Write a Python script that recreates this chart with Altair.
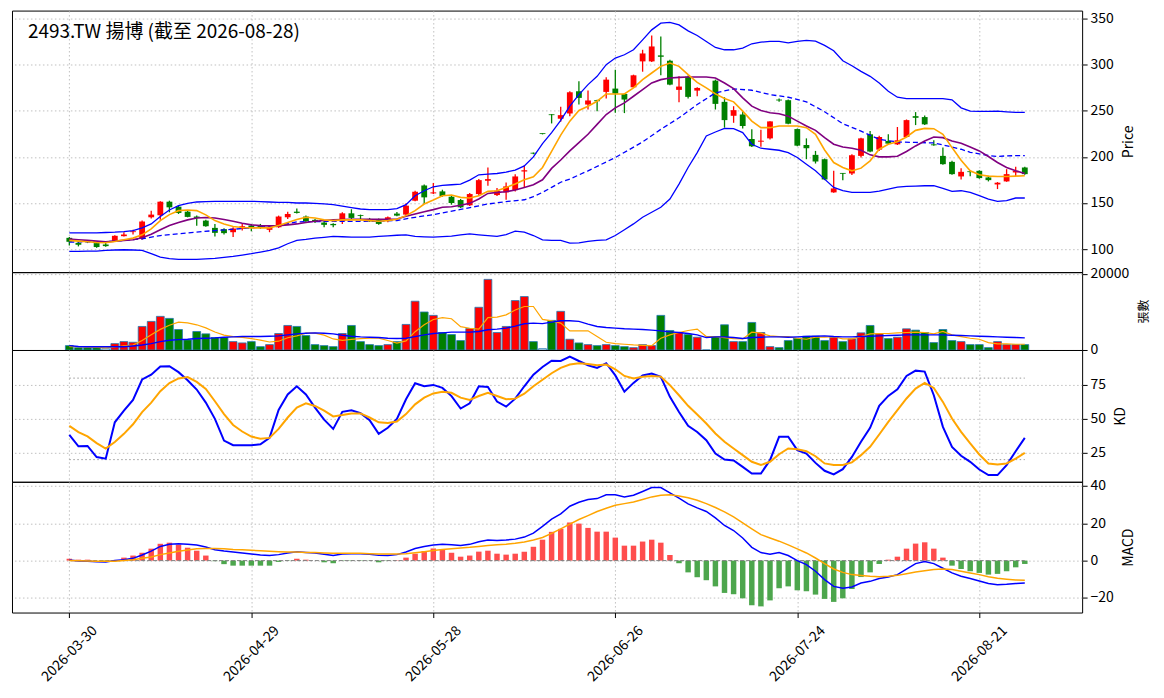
import altair as alt
import pandas as pd

TITLE = "2493.TW 揚博 (截至 2026-08-28)"
TICK_IDX = [0, 20, 40, 60, 80, 100]
TICK_DATES = ["2026-03-30", "2026-04-29", "2026-05-28", "2026-06-26", "2026-07-24", "2026-08-21"]

open_ = [112.2, 106.8, 108.3, 106.5, 105.0, 108.3, 114.0, 118.4, 111.2, 134.5,
         136.7, 151.4, 146.0, 140.6, 135.3, 130.9, 123.0, 121.6, 118.3, 121.9,
         125.5, 125.2, 120.9, 123.7, 134.5, 140.6, 135.3, 131.7, 128.8, 127.3,
         130.2, 138.8, 136.7, 132.7, 131.7, 130.9, 138.5, 137.4, 152.5, 169.0,
         160.4, 162.6, 156.8, 153.2, 147.5, 159.7, 174.1, 158.6, 161.5, 164.0,
         184.2, 203.9, 224.8, 246.0, 241.4, 247.1, 271.2, 256.8, 261.5, 270.5,
         274.1, 268.3, 275.5, 303.6, 303.6, 310.1, 304.3, 272.7, 287.1, 271.9,
         None, 282.7, 259.7, 244.6, 246.0, 219.4, 216.5, 220.1, 262.2, 261.5,
         230.2, 212.9, 202.2, 197.5, 161.5, 182.4, 182.0, 201.1, 224.5, 207.9,
         217.3, 213.6, 221.6, 244.2, 243.2, 213.6, 201.1, 194.6, 178.8, 184.2,
         184.9, 177.7, 170.1, 173.4, 183.1, 188.5]
high_ = [113.0, 107.6, 109.0, 107.6, 106.8, 115.0, 118.3, 120.9, 130.9, 141.7,
         151.8, 152.5, 147.1, 141.7, 136.3, 131.7, 127.3, 122.7, 123.7, 127.3,
         127.3, 127.3, 125.5, 136.3, 140.6, 143.9, 136.3, 132.7, 130.2, 128.1,
         139.9, 143.2, 137.4, 133.8, 133.1, 135.3, 140.2, 149.6, 163.3, 170.1,
         171.6, 164.4, 157.9, 154.3, 160.8, 175.9, 188.5, 166.2, 172.3, 181.3,
         190.3, 204.7, 225.5, 246.4, 254.3, 271.2, 282.0, 272.0, 262.0, 286.3,
         294.6, 269.0, 289.2, 316.2, 331.6, 330.6, 305.4, 287.4, 288.2, 275.5,
         None, 283.8, 264.7, 255.0, 249.6, 229.9, 229.5, 238.8, 263.3, 262.2,
         230.9, 220.1, 206.5, 198.2, 184.9, 182.6, 202.9, 220.8, 228.1, 223.0,
         224.5, 232.4, 240.6, 248.6, 245.0, 218.0, 210.1, 195.7, 187.8, 185.6,
         185.6, 179.5, 172.7, 186.7, 189.2, 189.2]
low_ = [104.0, 102.9, 106.5, 101.4, 102.6, 107.6, 113.7, 115.8, 110.1, 133.1,
        131.7, 139.9, 138.1, 134.5, 125.2, 124.1, 113.7, 115.8, 113.0, 120.1,
        119.4, 121.9, 118.3, 123.0, 132.7, 138.5, 128.4, 128.4, 123.7, 123.7,
        127.3, 131.7, 130.9, 129.5, 126.3, 129.1, 135.6, 136.3, 151.8, 148.9,
        159.7, 156.8, 148.2, 144.6, 146.8, 157.9, 168.7, 157.5, 153.6, 162.6,
        167.3, 202.9, 224.4, 236.3, 238.1, 244.2, 256.8, 251.4, 249.6, 263.3,
        247.8, 247.5, 274.8, 292.4, 302.9, 288.5, 277.7, 259.3, 263.3, 265.8,
        None, 251.4, 231.7, 237.0, 230.9, 210.8, 211.0, 219.0, 259.7, 235.3,
        211.5, 197.5, 192.8, 174.8, 161.2, 174.8, 180.3, 199.3, 205.1, 206.5,
        213.6, 212.9, 220.9, 234.5, 234.5, 212.2, 191.4, 180.6, 175.5, 179.1,
        176.3, 173.4, 165.1, 173.0, 179.1, 180.6]
close_ = [107.9, 104.7, 107.6, 102.2, 103.2, 114.4, 115.8, 119.0, 129.9, 137.4,
          151.4, 145.3, 139.2, 134.9, 133.8, 124.8, 117.6, 117.3, 122.3, 124.8,
          123.7, 123.0, 124.1, 135.3, 138.1, 139.2, 130.2, 130.2, 126.3, 125.9,
          138.8, 133.8, 136.0, 130.2, 127.3, 134.5, 136.3, 147.1, 162.2, 156.1,
          161.5, 157.6, 150.0, 145.3, 159.7, 174.8, 175.9, 163.3, 168.0, 178.8,
          185.6, 203.6, 224.8, 245.3, 245.3, 270.1, 264.0, 261.2, 260.4, 283.8,
          268.7, 262.2, 288.5, 312.2, 319.8, 308.6, 278.4, 276.3, 265.1, 274.8,
          None, 257.5, 239.9, 250.7, 233.5, 211.5, 217.6, 238.5, 261.2, 236.0,
          212.2, 209.4, 195.0, 175.5, 165.8, 181.7, 201.8, 220.1, 205.8, 221.6,
          214.4, 218.0, 239.9, 242.4, 235.3, 212.6, 192.1, 181.3, 183.8, 183.5,
          177.0, 174.8, 172.0, 181.3, 184.9, 181.3]

ma5 = [109.4, 108.6, 107.9, 107.2, 106.8, 108.3, 110.1, 111.9, 115.5, 121.9,
       130.9, 137.4, 141.7, 142.4, 141.7, 137.1, 130.9, 127.3, 124.5, 123.4,
       123.0, 123.0, 123.0, 125.5, 128.8, 132.0, 134.5, 133.8, 131.7, 130.9,
       131.7, 131.7, 131.7, 130.9, 130.2, 130.9, 132.4, 136.3, 141.7, 148.9,
       153.2, 157.9, 158.6, 156.1, 155.4, 157.9, 162.6, 163.3, 166.9, 170.5,
       175.2, 178.4, 188.5, 206.0, 223.6, 238.8, 250.4, 255.0, 260.4, 268.3,
       268.3, 268.3, 274.8, 283.8, 291.0, 298.2, 301.8, 298.2, 289.2, 280.9,
       274.8, 268.3, 263.3, 259.7, 249.6, 238.8, 231.7, 231.7, 233.5, 233.5,
       233.5, 231.7, 224.5, 207.5, 193.9, 188.5, 184.9, 187.8, 195.7, 208.3,
       213.7, 216.5, 221.6, 228.8, 230.9, 230.6, 224.5, 210.1, 196.4, 184.9,
       180.6, 179.1, 178.8, 178.8, 179.1, 179.5]
ma20 = [110.8, 110.1, 109.4, 108.6, 107.9, 108.6, 109.4, 110.1, 112.2, 116.2,
        120.9, 125.5, 128.8, 131.7, 133.8, 134.2, 133.8, 132.0, 130.2, 128.1,
        126.3, 125.5, 125.2, 125.5, 126.3, 127.3, 128.8, 130.2, 131.0, 131.7,
        132.0, 132.4, 132.4, 132.4, 132.4, 132.4, 132.7, 135.6, 138.1, 140.6,
        142.8, 145.3, 146.0, 147.5, 149.6, 154.3, 160.4, 161.5, 162.2, 164.0,
        166.9, 169.8, 175.2, 187.5, 196.6, 206.5, 215.5, 224.5, 235.3, 246.0,
        253.2, 258.6, 265.8, 273.0, 280.2, 283.8, 285.6, 286.3, 286.7, 286.7,
        286.7, 285.6, 280.2, 274.1, 264.0, 255.0, 250.4, 247.8, 246.8, 244.2,
        238.8, 233.5, 228.8, 220.9, 213.7, 210.8, 209.4, 207.2, 202.2, 200.0,
        200.0, 200.7, 205.8, 211.9, 217.3, 221.6, 220.9, 217.3, 214.7, 210.8,
        206.5, 200.4, 193.9, 188.5, 184.9, 182.0]
bb_up = [117.6, 117.6, 117.6, 117.6, 118.0, 118.3, 119.0, 120.1, 123.0, 127.3,
         135.3, 142.4, 147.1, 149.6, 151.1, 151.5, 151.8, 151.8, 151.8, 151.8,
         151.8, 151.5, 151.1, 150.7, 150.7, 150.0, 150.0, 149.6, 149.0, 148.2,
         146.5, 145.0, 143.5, 142.8, 142.8, 142.8, 143.9, 148.2, 157.9, 163.3,
         167.6, 169.0, 169.8, 170.5, 174.8, 180.6, 181.3, 182.0, 183.5, 185.6,
         190.3, 200.0, 214.4, 226.3, 239.7, 255.0, 267.6, 278.4, 287.4, 300.0,
         307.2, 310.8, 316.2, 327.0, 337.8, 345.0, 346.0, 343.2, 336.7, 331.7,
         325.2, 318.7, 316.2, 316.2, 318.0, 322.7, 324.5, 325.2, 325.2, 323.7,
         325.2, 326.3, 325.5, 321.0, 315.1, 304.3, 298.9, 292.8, 287.4, 280.2,
         271.2, 264.7, 263.3, 263.3, 263.3, 263.3, 263.3, 261.9, 253.2, 249.6,
         249.3, 249.3, 249.6, 248.9, 248.2, 248.2]
bb_low = [97.5, 97.6, 97.7, 97.8, 98.5, 99.0, 99.3, 99.0, 98.6, 95.0,
          91.4, 89.6, 88.8, 88.8, 88.8, 89.3, 89.9, 91.0, 92.1, 93.5,
          95.0, 96.8, 98.6, 101.4, 105.8, 109.4, 110.5, 111.9, 112.8, 113.7,
          113.4, 113.0, 113.0, 113.0, 113.7, 114.4, 115.0, 115.5, 113.7, 113.3,
          113.0, 113.5, 114.0, 115.5, 116.5, 115.5, 114.7, 113.7, 115.8, 119.4,
          118.3, 114.7, 110.1, 109.4, 109.4, 106.5, 106.8, 108.3, 109.4, 110.1,
          114.7, 120.9, 127.3, 134.5, 139.9, 145.3, 154.3, 170.5, 188.5, 204.7,
          222.7, 227.0, 230.9, 230.6, 226.3, 213.7, 209.4, 208.3, 207.2, 204.7,
          199.3, 192.1, 184.9, 175.9, 166.9, 163.3, 161.5, 161.5, 161.5, 162.9,
          165.1, 167.3, 168.0, 168.3, 168.7, 168.7, 165.8, 162.6, 163.3, 161.5,
          157.9, 154.3, 151.8, 152.5, 155.4, 155.4]
ma60_idx = [0, 5, 8, 10, 13, 16, 20, 23, 25, 28,
            31, 34, 36, 38, 40, 43, 46, 48, 50, 51,
            52, 53, 54, 55, 57, 60, 63, 65, 67, 69,
            71, 73, 75, 77, 79, 81, 83, 85, 87, 89,
            91, 93, 95, 96, 98, 99, 101, 102, 103, 105]
ma60_val = [107.6, 108.3, 111.2, 114.7, 117.6, 120.1, 123.0, 125.5, 129.5, 130.0,
            130.0, 130.2, 131.0, 134.5, 137.4, 143.0, 148.9, 151.5, 153.5, 157.0,
            161.5, 167.0, 172.5, 176.0, 184.9, 199.3, 216.2, 229.9, 242.4, 256.8,
            269.4, 273.7, 272.3, 267.6, 264.7, 259.7, 249.0, 236.0, 228.0, 219.0,
            216.2, 215.7, 215.1, 213.0, 208.3, 205.0, 201.5, 200.4, 201.2, 201.4]

volume = [1150, 620, 620, 620, 350, 1670, 2200, 2030, 6170, 7490,
          8810, 8280, 5370, 2640, 4850, 4230, 3260, 3260, 2200, 1850,
          2200, 880, 1410, 4320, 6430, 6170, 3790, 1410, 1150, 880,
          4320, 6430, 2200, 1410, 1150, 1410, 2200, 6700, 12780, 9960,
          9070, 4580, 4050, 2470, 5640, 11190, 18500, 4580, 6170, 12950,
          14000, 2200, 350, 7750, 10130, 2820, 1850, 1410, 1150, 1410,
          1150, 880, 620, 1410, 1150, 9070, 5110, 4580, 4050, 3350,
          0, 3520, 6610, 2200, 2200, 7220, 4580, 880, 620, 2470,
          3080, 3610, 3610, 2470, 3350, 2200, 2910, 4490, 6430, 4230,
          3000, 3350, 5550, 5200, 4580, 1940, 5370, 2470, 2200, 1410,
          1410, 620, 2200, 1410, 1410, 1410]
vol_dir = [-1, -1, -1, -1, 0, 1, 1, 1, 1, 1,
           1, -1, -1, -1, -1, -1, -1, -1, 1, 1,
           -1, -1, 1, 1, 1, -1, -1, -1, -1, -1,
           1, -1, -1, -1, -1, 1, -1, 1, 1, -1,
           1, -1, -1, -1, 1, 1, 1, 1, 1, 1,
           1, -1, 0, -1, 1, 1, -1, 1, -1, 1,
           -1, -1, 1, 1, 1, -1, -1, 1, -1, 1,
           0, -1, -1, 1, -1, -1, 1, 1, -1, -1,
           -1, -1, -1, -1, 1, -1, 1, 1, -1, 1,
           -1, 1, 1, -1, -1, -1, -1, -1, 1, -1,
           -1, -1, 1, 1, 1, -1]
vol_ma5 = [900, 850, 750, 700, 560, 780, 1100, 1300, 2500, 4000,
           5400, 6500, 7300, 7100, 6600, 5800, 4700, 3900, 3500, 3300,
           3000, 2600, 2100, 2300, 3200, 3700, 4400, 4400, 3900, 2900,
           2500, 2800, 3000, 3100, 3100, 2500, 1800, 2400, 4800, 6600,
           8000, 8500, 8200, 6100, 5700, 5500, 8500, 8600, 9200, 10500,
           11400, 11400, 8000, 7650, 7050, 5020, 5020, 5020, 3520, 2030,
           1670, 1500, 1320, 1230, 1150, 3080, 3960, 4580, 5110, 5460,
           3520, 3520, 3260, 3000, 2900, 4670, 4400, 3700, 3520, 3520,
           3080, 2820, 3350, 3350, 3520, 2900, 2900, 3520, 4230, 4320,
           4320, 4490, 4580, 4670, 4580, 4230, 4850, 3960, 3520, 3080,
           2820, 1940, 1590, 1590, 1500, 1500]
vol_ma20 = [1150, 900, 850, 850, 850, 850, 850, 1050, 1300, 1670,
            2200, 2550, 2730, 2820, 3000, 3080, 3170, 3350, 3440, 3520,
            3520, 3520, 3610, 3700, 3960, 4230, 4400, 4490, 4400, 4230,
            3880, 3610, 3440, 3350, 3260, 3080, 3000, 3080, 3520, 3960,
            4320, 4490, 4670, 4670, 4670, 4850, 5290, 5460, 5730, 6250,
            6870, 7050, 6920, 7300, 7660, 7660, 7490, 6780, 6170, 5900,
            5730, 5550, 5460, 5370, 5200, 5020, 4760, 4580, 4320, 3960,
            3260, 3440, 3440, 3260, 3000, 3260, 3350, 3440, 3440, 3350,
            3440, 3520, 3610, 3700, 3520, 3440, 3440, 3520, 3610, 3700,
            3790, 3880, 3960, 3960, 3960, 3960, 3960, 3880, 3790, 3700,
            3610, 3520, 3440, 3350, 3260, 3170]

k_val = [38.3, 29.8, 30.1, 21.9, 20.7, 47.5, 56.0, 64.0, 79.0, 82.5,
         88.5, 88.8, 84.4, 78.4, 71.6, 62.0, 50.0, 34.0, 30.6, 30.6,
         30.6, 31.3, 36.0, 56.6, 68.0, 74.0, 68.0, 58.3, 49.4, 42.6,
         55.2, 56.4, 54.2, 49.0, 39.0, 43.4, 49.9, 64.4, 76.2, 74.0,
         75.0, 72.8, 66.8, 57.6, 61.5, 74.0, 73.5, 62.7, 59.0, 64.9,
         74.0, 82.5, 88.2, 92.8, 92.6, 95.9, 92.6, 89.5, 87.5, 91.0,
         82.0, 70.0, 76.5, 82.0, 83.3, 80.9, 66.2, 55.1, 44.9, 40.4,
         34.3, 24.5, 20.1, 19.4, 14.7, 9.8, 9.8, 19.6, 36.8, 36.8,
         27.0, 24.5, 17.6, 11.8, 9.1, 13.0, 22.0, 33.1, 43.4, 59.6,
         66.9, 71.8, 81.6, 85.5, 84.8, 67.4, 44.1, 29.4, 22.8, 18.4,
         12.7, 8.6, 8.6, 16.0, 26.2, 36.0]
d_val = [44.8, 40.2, 37.1, 32.2, 28.1, 33.0, 39.0, 46.0, 55.0, 62.0,
         70.4, 76.4, 79.8, 80.8, 77.2, 72.0, 63.0, 53.5, 45.5, 40.7,
         37.0, 35.4, 36.0, 42.6, 51.0, 58.3, 61.5, 59.5, 56.0, 51.8,
         52.8, 54.0, 54.0, 51.0, 47.5, 47.0, 48.0, 53.5, 60.7, 65.6,
         68.7, 70.0, 69.2, 65.6, 63.9, 66.8, 69.2, 66.8, 64.4, 64.9,
         68.5, 74.0, 78.8, 83.6, 87.5, 90.0, 91.0, 90.4, 89.5, 90.0,
         86.5, 81.6, 79.7, 81.0, 81.6, 81.1, 74.8, 67.4, 59.6, 53.2,
         46.6, 39.2, 33.1, 28.2, 23.3, 18.4, 16.0, 18.4, 24.0, 28.2,
         27.7, 26.2, 22.5, 17.2, 16.0, 16.0, 18.0, 23.3, 29.4, 38.5,
         47.8, 56.4, 65.0, 72.3, 76.5, 72.8, 62.5, 50.2, 40.4, 31.9,
         23.8, 17.2, 16.4, 17.2, 20.8, 25.0]
KD_LEVELS = [20, 80]

dif = [0.3, -0.2, -0.4, -0.6, -0.7, 0.0, 0.5, 1.2, 3.0, 5.1,
       7.6, 8.7, 9.0, 8.8, 8.3, 7.3, 5.8, 5.1, 4.6, 4.1,
       3.5, 3.0, 2.7, 3.2, 4.1, 4.8, 4.4, 4.1, 3.4, 2.8,
       3.5, 3.7, 3.7, 3.4, 2.8, 2.7, 3.2, 4.6, 6.5, 7.6,
       8.3, 8.8, 8.5, 8.1, 8.7, 10.1, 11.0, 10.8, 11.0, 11.5,
       12.6, 14.7, 18.3, 22.2, 25.0, 29.1, 31.2, 32.7, 33.2, 35.2,
       35.2, 34.1, 35.0, 37.0, 39.1, 39.1, 36.3, 33.4, 30.4, 28.2,
       26.3, 22.9, 18.8, 16.1, 12.1, 7.1, 4.3, 3.4, 4.3, 2.7,
       0.0, -2.1, -5.7, -10.2, -13.8, -14.8, -14.1, -12.0, -11.1, -9.6,
       -8.8, -7.5, -4.5, -1.6, -0.5, -1.6, -4.1, -6.6, -8.4, -9.6,
       -10.9, -12.3, -12.9, -12.7, -12.3, -12.0]
dea = [0.0, -0.1, -0.2, -0.3, -0.4, -0.3, 0.0, 0.5, 1.2, 1.9,
       3.2, 4.1, 5.0, 5.7, 6.4, 6.5, 6.5, 6.4, 6.0, 5.8,
       5.5, 5.3, 5.0, 4.8, 4.6, 4.6, 4.4, 4.3, 4.1, 4.0,
       3.9, 3.9, 3.9, 3.7, 3.6, 3.5, 3.5, 3.7, 4.2, 4.8,
       5.4, 5.9, 6.4, 6.8, 7.1, 7.6, 8.1, 8.5, 8.8, 9.3,
       10.0, 11.0, 12.4, 14.6, 17.0, 19.5, 22.0, 24.1, 26.3, 28.0,
       29.6, 30.5, 31.4, 32.7, 34.1, 35.0, 35.2, 34.6, 33.6, 32.3,
       30.5, 28.4, 26.1, 23.4, 20.2, 17.0, 13.9, 12.1, 10.4, 8.4,
       6.3, 4.1, 1.4, -1.6, -4.5, -6.3, -7.5, -8.0, -8.4, -8.6,
       -8.4, -7.9, -7.0, -6.1, -5.4, -4.8, -4.5, -4.8, -5.7, -6.6,
       -7.5, -8.6, -9.5, -10.0, -10.4, -10.5]
hist = [1.0, 0.5, 0.5, 0.0, -0.2, 0.3, 1.6, 2.7, 4.2, 6.4,
        9.0, 9.6, 8.5, 6.9, 5.3, 2.7, -0.3, -1.9, -2.7, -2.7,
        -2.7, -2.7, -2.7, -0.7, -0.2, 1.0, 0.5, 0.0, -0.9, -1.4,
        -0.2, -0.2, -0.2, -0.1, -0.9, -0.2, 0.2, 1.6, 3.7, 5.1,
        6.5, 6.2, 4.2, 2.1, 2.7, 4.8, 5.3, 3.7, 3.2, 3.7,
        4.8, 7.4, 11.2, 15.4, 17.0, 20.4, 19.8, 17.5, 15.5, 15.5,
        12.3, 8.0, 8.0, 10.2, 11.2, 9.6, 3.0, -1.4, -6.3, -8.9,
        -10.5, -13.8, -17.3, -18.0, -20.2, -23.9, -24.5, -21.3, -14.8, -13.8,
        -15.9, -16.4, -18.2, -20.5, -22.1, -20.2, -15.2, -8.8, -6.3, -1.8,
        0.5, 2.1, 6.4, 9.1, 9.8, 6.4, 1.6, -2.7, -4.5, -5.7,
        -6.6, -7.5, -7.1, -5.7, -3.6, -1.8]

# ---------------------------------------------------------------
FONT = "Noto Sans CJK TC"
RED, GREEN = "#ff0000", "#008000"
W = 1072
XDOM = [-6.3, 111.3]
N = len(close_)
idx = list(range(N))

df = pd.DataFrame({
    "i": idx, "open": open_, "high": high_, "low": low_, "close": close_,
    "ma5": ma5, "ma20": ma20, "bbu": bb_up, "bbl": bb_low,
    "vol": volume, "vdir": vol_dir, "vma5": vol_ma5, "vma20": vol_ma20,
    "k": k_val, "d": d_val, "dif": dif, "dea": dea, "hist": hist,
})
df["vcol"] = df["vdir"].map({1: "up", -1: "down", 0: "flat"})
cdf = df.dropna(subset=["open", "close"]).copy()
cdf["cdir"] = ["up" if c > o else "down" for o, c in zip(cdf["open"], cdf["close"])]
ma60_df = pd.DataFrame({"i": ma60_idx, "ma60": ma60_val})
kd_ref = pd.DataFrame({"lv": KD_LEVELS, "x0": [idx[0]] * 2, "x1": [idx[-1]] * 2})
zero_df = pd.DataFrame({"z": [0], "x0": [idx[0]], "x1": [idx[-1]]})
title_df = pd.DataFrame({"t": [TITLE]})

label_expr = "".join(f"datum.value == {t} ? '{d}' : " for t, d in zip(TICK_IDX, TICK_DATES)) + "''"

xscale = alt.Scale(domain=XDOM, nice=False, zero=False)


def xaxis(bottom=False):
    if bottom:
        return alt.Axis(values=TICK_IDX, labelExpr=label_expr, labelAngle=315,
                        labelAlign="center", labelBaseline="middle", labelPadding=36,
                        tickSize=5, ticks=True, domain=False, grid=True, title=None,
                        labelFlush=False, labelOverlap=False, labelBound=False)
    return alt.Axis(values=TICK_IDX, labels=False, ticks=False, domain=False,
                    grid=True, title=None)


def X(field, bottom=False):
    return alt.X(field, type="quantitative", scale=xscale, axis=xaxis(bottom))


def make_y(dom, values, title, tsize=14, pad=8, fmt=None):
    scale = alt.Scale(domain=dom, nice=False, zero=False)
    kw = dict(orient="right", values=values, title=title, titleAngle=270,
              titleBaseline="top", titleFontSize=tsize, tickSize=5, domain=False,
              grid=True, labelPadding=3, titlePadding=pad)
    if fmt:
        kw["format"] = fmt
    axis = alt.Axis(**kw)

    def Y(field):
        return alt.Y(field, type="quantitative", scale=scale, axis=axis)
    return Y


cdir_color = alt.Color("cdir:N", scale=alt.Scale(domain=["up", "down"], range=[RED, GREEN]), legend=None)

# ---------------- Price panel ----------------
Yp = make_y([75, 358.7], [100, 150, 200, 250, 300, 350], "Price")
base_c = alt.Chart(cdf)
wicks = base_c.mark_rule(strokeWidth=1.3).encode(x=X("i"), y=Yp("low"), y2="high", color=cdir_color)
bodies = base_c.transform_calculate(
    bt="max(datum.open, datum.close)", bb="min(datum.open, datum.close)"
).transform_calculate(
    bt2="datum.bt - datum.bb < 0.9 ? datum.bb + 0.9 : datum.bt",
    x0="datum.i - 0.32", x1="datum.i + 0.32"
).mark_rect().encode(x=X("x0"), x2="x1", y=Yp("bb"), y2="bt2", color=cdir_color)


def pline(data, field, color, width=1.5, dash=None, Y=Yp, bottom=False):
    kw = dict(color=color, strokeWidth=width)
    if dash:
        kw["strokeDash"] = dash
    return alt.Chart(data).mark_line(**kw).encode(x=X("i", bottom), y=Y(field))


price = alt.layer(
    wicks, bodies,
    pline(df, "bbu", "#0000ff", 1.3),
    pline(df, "bbl", "#0000ff", 1.3),
    pline(ma60_df, "ma60", "#0000ff", 1.3, [5, 3]),
    pline(df, "ma20", "#800080", 1.6),
    pline(df, "ma5", "#ffa500", 1.6),
    alt.Chart(title_df).mark_text(align="left", baseline="middle", fontSize=19,
                                  font=FONT, color="black").encode(
        x=alt.value(16), y=alt.value(21), text="t:N"),
).properties(width=W, height=262)

# ---------------- Volume panel ----------------
Yv = make_y([0, 20400], [0, 20000], "張數", tsize=12, pad=10, fmt="d")
vbars = alt.Chart(df).transform_calculate(
    x0="datum.i - 0.43", x1="datum.i + 0.43", vz="0"
).mark_rect(stroke="#1f77b4", strokeWidth=0.8).encode(
    x=X("x0"), x2="x1", y=Yv("vol"), y2="vz:Q",
    color=alt.Color("vcol:N", scale=alt.Scale(domain=["up", "down", "flat"],
                                              range=[RED, GREEN, "#ffffff"]), legend=None))
vol = alt.layer(
    vbars,
    pline(df, "vma5", "#ffa500", 1.2, Y=Yv),
    pline(df, "vma20", "#0000ff", 1.4, Y=Yv),
).properties(width=W, height=78)

# ---------------- KD panel ----------------
Yk = make_y([3.7, 100.7], [25, 50, 75], "KD")
kd_rules = alt.Chart(kd_ref).mark_rule(color="#999999", strokeDash=[1.5, 2.5], strokeWidth=1).encode(
    x=X("x0"), x2="x1", y=Yk("lv"))
kd = alt.layer(
    kd_rules,
    pline(df, "k", "#0000ff", 2.0, Y=Yk),
    pline(df, "d", "#ffa500", 2.0, Y=Yk),
).properties(width=W, height=132)

# ---------------- MACD panel ----------------
Ym = make_y([-27.8, 42.2], [-20, 0, 20, 40], "MACD")
hbars = alt.Chart(df).transform_calculate(
    x0="datum.i - 0.3", x1="datum.i + 0.3", hz="0",
    hs="datum.hist >= 0 ? 'pos' : 'neg'"
).mark_rect().encode(
    x=X("x0", True), x2="x1", y=Ym("hist"), y2="hz:Q",
    color=alt.Color("hs:N", scale=alt.Scale(domain=["pos", "neg"], range=["#ff4d4d", "#4da64d"]), legend=None))
zline = alt.Chart(zero_df).mark_rule(color="#808080", strokeDash=[4, 2], strokeWidth=1).encode(
    x=X("x0", True), x2="x1", y=Ym("z"))
macd = alt.layer(
    hbars, zline,
    pline(df, "dif", "#0000ff", 1.5, Y=Ym, bottom=True),
    pline(df, "dea", "#ffa500", 1.5, Y=Ym, bottom=True),
).properties(width=W, height=131)

chart = alt.vconcat(price, vol, kd, macd, spacing=0, bounds="flush").resolve_scale(
    color="independent"
).properties(
    padding={"left": 3, "top": 1, "right": 5, "bottom": 5}
).configure(font=FONT).configure_view(
    stroke="black", strokeWidth=1
).configure_axis(
    labelFont=FONT, titleFont=FONT, labelFontSize=14, titleFontSize=14,
    titleFontWeight="normal", labelColor="black", titleColor="black",
    tickColor="black", gridColor="#b0b0b0", gridDash=[1.5, 2.5], gridWidth=0.8,
)

chart.save("out.html", embed_options={"renderer": "svg", "actions": False})
